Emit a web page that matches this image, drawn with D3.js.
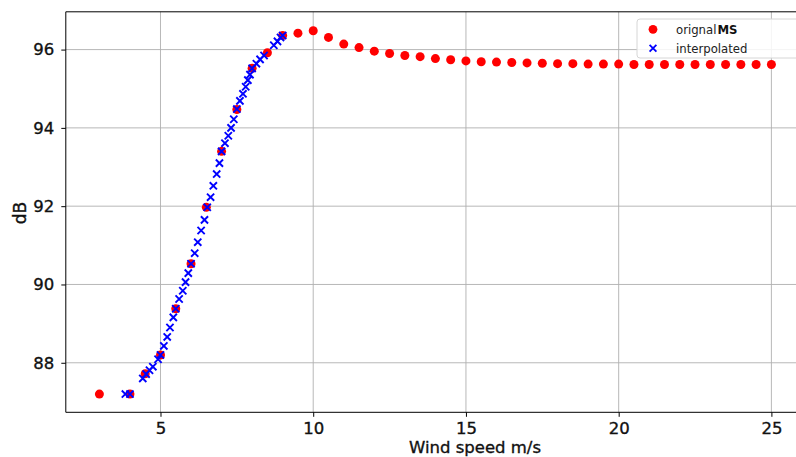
<!DOCTYPE html>
<html>
<head>
<meta charset="utf-8">
<script src="https://cdn.jsdelivr.net/npm/d3@7"></script>
<style>
  html, body { margin: 0; padding: 0; background: #fff; }
  svg { display: block; }
  text { font-family: "DejaVu Sans", sans-serif; }
</style>
</head>
<body>
<svg id="chart" width="796" height="457"></svg>
<script>
// ---- data ----
const originalX = [3, 4, 4.5, 5, 5.5, 6, 6.5, 7, 7.5, 8, 8.5, 9, 9.5, 10, 10.5, 11, 11.5, 12, 12.5, 13,
  13.5, 14, 14.5, 15, 15.5, 16, 16.5, 17, 17.5, 18, 18.5, 19, 19.5, 20, 20.5, 21, 21.5, 22, 22.5, 23,
  23.5, 24, 24.5, 25];
const originalY = [87.2, 87.2, 87.72, 88.2, 89.38, 90.53, 91.97, 93.4, 94.47, 95.52, 95.92, 96.36, 96.42, 96.48, 96.31, 96.14, 96.05, 95.96, 95.9, 95.85,
  95.82, 95.77, 95.74, 95.71, 95.69, 95.68, 95.67, 95.66, 95.65, 95.64, 95.64, 95.63, 95.63, 95.63, 95.62, 95.62, 95.62, 95.62, 95.62, 95.62,
  95.62, 95.62, 95.62, 95.62];
const interpX = [3.85, 4.0, 4.42, 4.53, 4.64, 4.75, 4.92, 5.0, 5.11, 5.22, 5.31, 5.42, 5.5, 5.61, 5.73, 5.82, 5.91,
  6.0, 6.12, 6.22, 6.33, 6.44, 6.53, 6.64, 6.73, 6.84, 6.93, 7.0, 7.11, 7.22, 7.31, 7.4, 7.5, 7.6, 7.7, 7.79,
  7.86, 7.93, 8.0, 8.14, 8.26, 8.39, 8.71, 8.83, 8.93, 9.0];
const interpY = [87.2, 87.2, 87.6, 87.71, 87.81, 87.9, 88.09, 88.2, 88.43, 88.66, 88.9, 89.16, 89.38, 89.63, 89.84, 90.06, 90.29,
  90.53, 90.8, 91.08, 91.38, 91.65, 91.97, 92.23, 92.52, 92.82, 93.1, 93.4, 93.61, 93.8, 94.0, 94.22, 94.48, 94.69, 94.87, 95.05,
  95.22, 95.36, 95.52, 95.64, 95.75, 95.85, 96.11, 96.21, 96.31, 96.36];
const xTicks = [5, 10, 15, 20, 25];
const yTicks = [88, 90, 92, 94, 96];
const xLabel = "Wind speed m/s";
const yLabel = "dB";
const legendLabels = ["orignal", "interpolated"];

// ---- layout ----
const svg = d3.select("#chart");
const pLeft = 65.8, pRight = 805, pTop = 11.8, pBottom = 412.3;
const x = d3.scaleLinear().domain([1.9, 26.1]).range([pLeft, pRight]);
const y = d3.scaleLinear().domain([86.735, 96.965]).range([pBottom, pTop]);

// grid
const grid = svg.append("g");
grid.selectAll("line.vx").data(xTicks).join("line")
  .attr("x1", d => x(d)).attr("x2", d => x(d)).attr("y1", pTop).attr("y2", pBottom)
  .attr("stroke", "#b0b0b0").attr("stroke-width", 0.9);
grid.selectAll("line.hy").data(yTicks).join("line")
  .attr("x1", pLeft).attr("x2", pRight).attr("y1", d => y(d)).attr("y2", d => y(d))
  .attr("stroke", "#b0b0b0").attr("stroke-width", 0.9);

// axes
const xAxis = svg.append("g").attr("transform", `translate(0,${pBottom})`)
  .call(d3.axisBottom(x).tickValues(xTicks).tickSize(4.5).tickPadding(5.5).tickFormat(d3.format("d")));
const yAxis = svg.append("g").attr("transform", `translate(${pLeft},0)`)
  .call(d3.axisLeft(y).tickValues(yTicks).tickSize(4.5).tickPadding(7).tickFormat(d3.format("d")));
[xAxis, yAxis].forEach(g => {
  g.select(".domain").remove();
  g.selectAll(".tick line").attr("stroke", "#000").attr("stroke-width", 1);
  g.selectAll(".tick text").attr("font-family", "DejaVu Sans, sans-serif").attr("font-size", 16.5)
    .attr("fill", "#111").attr("stroke", "#111").attr("stroke-width", 0.35);
});

// spines
svg.append("line").attr("x1", pLeft).attr("x2", pLeft).attr("y1", pTop).attr("y2", pBottom).attr("stroke", "#000").attr("stroke-width", 1);
svg.append("line").attr("x1", pLeft).attr("x2", pRight).attr("y1", pBottom).attr("y2", pBottom).attr("stroke", "#000").attr("stroke-width", 1);
svg.append("line").attr("x1", pLeft).attr("x2", pRight).attr("y1", pTop).attr("y2", pTop).attr("stroke", "#000").attr("stroke-width", 1);

// original points
const orig = originalX.map((v, i) => ({x: v, y: originalY[i]}));
svg.append("g").selectAll("circle").data(orig).join("circle")
  .attr("cx", d => x(d.x)).attr("cy", d => y(d.y)).attr("r", 4.5).attr("fill", "#ff0000");

// interpolated points
const interp = interpX.map((v, i) => ({x: v, y: interpY[i]}));
const s = 3.6;
svg.append("g").selectAll("path").data(interp).join("path")
  .attr("d", d => {
    const cx = x(d.x), cy = y(d.y);
    return `M${cx - s},${cy - s}L${cx + s},${cy + s}M${cx - s},${cy + s}L${cx + s},${cy - s}`;
  })
  .attr("stroke", "#0000ff").attr("stroke-width", 1.9).attr("fill", "none");

// axis labels
svg.append("text").attr("x", 475).attr("y", 453).attr("text-anchor", "middle")
  .attr("font-size", 16.5).attr("fill", "#111").attr("stroke", "#111").attr("stroke-width", 0.35).text(xLabel);
svg.append("text").attr("transform", "translate(26,213) rotate(-90)").attr("text-anchor", "middle")
  .attr("font-size", 17).attr("fill", "#111").attr("stroke", "#111").attr("stroke-width", 0.35).text(yLabel);

// legend
const lg = svg.append("g");
lg.append("rect").attr("x", 637).attr("y", 19).attr("width", 180).attr("height", 39).attr("rx", 3)
  .attr("fill", "#fff").attr("fill-opacity", 0.85).attr("stroke", "#d6d6d6").attr("stroke-width", 1);
lg.append("circle").attr("cx", 653).attr("cy", 29.3).attr("r", 4.4).attr("fill", "#ff0000");
lg.append("path").attr("d", `M${653 - 3.4},${48.3 - 3.4}L${653 + 3.4},${48.3 + 3.4}M${653 - 3.4},${48.3 + 3.4}L${653 + 3.4},${48.3 - 3.4}`)
  .attr("stroke", "#0000ff").attr("stroke-width", 1.8);
const t1 = lg.append("text").attr("x", 676).attr("y", 33.5).attr("font-size", 11.7).attr("fill", "#222");
t1.append("tspan").text(legendLabels[0]);
t1.append("tspan").attr("font-weight", "bold").attr("fill", "#111").attr("dx", 1).text("MS");
lg.append("text").attr("x", 676).attr("y", 52.5).attr("font-size", 11.7).attr("fill", "#222").text(legendLabels[1]);
</script>
</body>
</html>
